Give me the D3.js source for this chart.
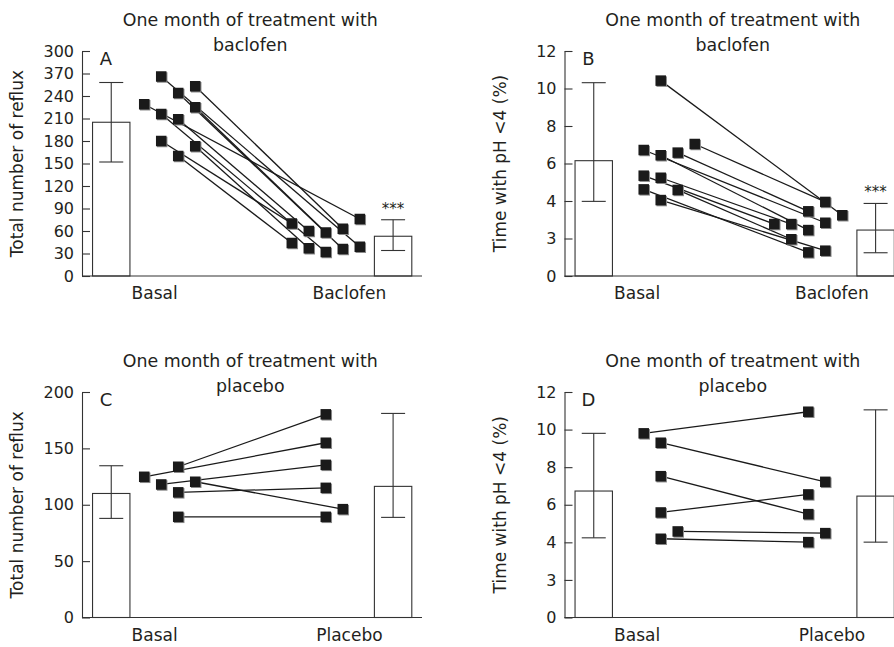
<!DOCTYPE html>
<html>
<head>
<meta charset="utf-8">
<script src="https://cdn.jsdelivr.net/npm/d3@7"></script>
<style>
  body { margin: 0; background: #fff; }
  text { font-family: "DejaVu Sans", sans-serif; fill: #231f20; }
</style>
</head>
<body>
<svg id="chart" width="894" height="647"></svg>
<script>
// categories and titles
var groupsBaclofen = ['Basal', 'Baclofen'];
var groupsPlacebo = ['Basal', 'Placebo'];
var titleBaclofen = ['One month of treatment with', 'baclofen'];
var titlePlacebo = ['One month of treatment with', 'placebo'];
var yLabelReflux = 'Total number of reflux';
var yLabelPh = 'Time with pH <4 (%)';

// tick values and the labels printed on them
var ticksA = [0, 30, 60, 90, 120, 150, 180, 210, 240, 270, 300];
var tickLabelsA = ['0', '30', '60', '90', '120', '150', '180', '210', '240', '370', '300'];
var ticksC = [0, 50, 100, 150, 200];
var tickLabelsC = ['0', '50', '100', '150', '200'];
var ticksPh = [0, 2, 4, 6, 8, 10, 12];
var tickLabelsPh = ['0', '3', '4', '6', '8', '10', '12'];

// group means with error bars [basal, after]
var meanA = [205, 53];
var lowA = [152, 34];
var highA = [258, 75];
var meanB = [6.15, 2.45];
var lowB = [3.98, 1.24];
var highB = [10.31, 3.87];
var meanC = [110, 116.3];
var lowC = [87.9, 88.8];
var highC = [134.6, 181];
var meanD = [6.73, 6.46];
var lowD = [4.24, 4.01];
var highD = [9.8, 11.05];

// individual patients: jitter slot and value, before and after
var aBasalSlot = [3, 0, 1, 2, 3, 1, 2, 3, 1, 2];
var aBasal = [253, 229, 266, 244, 225, 216, 209, 173, 180, 160];
var aAfterSlot = [3, 4, 4, 3, 2, 2, 1, 1, 0, 0];
var aAfter = [63, 76, 39, 36, 58, 32, 60, 37, 70, 44];

var bBasalSlot = [2, 4, 3, 1, 2, 1, 2, 3, 1, 2];
var bBasal = [10.42, 7.04, 6.58, 6.72, 6.44, 5.35, 5.24, 4.59, 4.62, 4.05];
var bAfterSlot = [4, 3, 2, 3, 2, 0, 1, 1, 2, 3];
var bAfter = [3.24, 3.95, 3.45, 2.84, 2.45, 2.77, 2.77, 1.96, 1.26, 1.35];

var cBasalSlot = [2, 0, 1, 2, 3, 2];
var cBasal = [133.7, 124.8, 118, 111, 120.4, 89.3];
var cAfterSlot = [2, 2, 2, 2, 3, 2];
var cAfter = [180.2, 155, 135.4, 115, 96.1, 89.3];

var dBasalSlot = [1, 2, 2, 2, 3, 2];
var dBasal = [9.8, 9.3, 7.52, 5.59, 4.58, 4.19];
var dAfterSlot = [2, 3, 2, 2, 3, 2];
var dAfter = [10.95, 7.22, 5.5, 6.55, 4.49, 4.01];

var svg = d3.select('#chart');

var panels = [
  { letter: 'A', left: 82, top: 51, bottom: 276, yMax: 300, ticks: ticksA, tickLabels: tickLabelsA,
    yLabel: yLabelReflux, title: titleBaclofen, groups: groupsBaclofen, stars: true,
    mean: meanA, low: lowA, high: highA, bs: aBasalSlot, bv: aBasal, as: aAfterSlot, av: aAfter },
  { letter: 'B', left: 564.5, top: 51, bottom: 276, yMax: 12, ticks: ticksPh, tickLabels: tickLabelsPh,
    yLabel: yLabelPh, title: titleBaclofen, groups: groupsBaclofen, stars: true,
    mean: meanB, low: lowB, high: highB, bs: bBasalSlot, bv: bBasal, as: bAfterSlot, av: bAfter },
  { letter: 'C', left: 82, top: 392, bottom: 617.5, yMax: 200, ticks: ticksC, tickLabels: tickLabelsC,
    yLabel: yLabelReflux, title: titlePlacebo, groups: groupsPlacebo, stars: false,
    mean: meanC, low: lowC, high: highC, bs: cBasalSlot, bv: cBasal, as: cAfterSlot, av: cAfter },
  { letter: 'D', left: 564.5, top: 392, bottom: 617.5, yMax: 12, ticks: ticksPh, tickLabels: tickLabelsPh,
    yLabel: yLabelPh, title: titlePlacebo, groups: groupsPlacebo, stars: false,
    mean: meanD, low: lowD, high: highD, bs: dBasalSlot, bv: dBasal, as: dAfterSlot, av: dAfter }
];

function drawPanel(p) {
  var g = svg.append('g').attr('transform', 'translate(' + p.left + ',0)');
  var y = d3.scaleLinear().domain([0, p.yMax]).range([p.bottom, p.top]);
  // horizontal layout in units of the jitter step
  var x = d3.scaleLinear().domain([0, 20]).range([0, 340]);
  var barCenter = [1.72, 18.3];
  var slotStart = [3.66, 12.34];
  var barW = x(2.2);
  var cat = d3.scalePoint().domain(p.groups).range([x(4.24), x(15.7)]);

  // title
  var midX = x(9.9);
  g.selectAll('text.title').data(p.title).enter().append('text')
    .attr('class', 'title')
    .attr('x', midX)
    .attr('y', function(d, i) { return p.top - 25 + i * 25; })
    .attr('text-anchor', 'middle')
    .style('font-size', '17.4px')
    .text(function(d) { return d; });

  // y axis label
  g.append('text')
    .attr('transform', 'translate(' + (-59) + ',' + ((p.top + p.bottom) / 2) + ') rotate(-90)')
    .attr('text-anchor', 'middle')
    .style('font-size', '17px')
    .text(p.yLabel);

  // bars
  g.selectAll('rect.bar').data(p.mean).enter().append('rect')
    .attr('class', 'bar')
    .attr('x', function(d, i) { return x(barCenter[i]) - barW / 2; })
    .attr('y', function(d) { return y(d); })
    .attr('width', barW)
    .attr('height', function(d) { return y(0) - y(d); })
    .attr('fill', '#fff')
    .attr('stroke', '#333')
    .attr('stroke-width', 1.1);

  // error bars
  p.mean.forEach(function(m, i) {
    var cx = x(barCenter[i]);
    g.append('line').attr('x1', cx).attr('x2', cx)
      .attr('y1', y(p.low[i])).attr('y2', y(p.high[i]))
      .attr('stroke', '#333').attr('stroke-width', 1.1);
    [p.low[i], p.high[i]].forEach(function(v) {
      g.append('line').attr('x1', cx - 12).attr('x2', cx + 12)
        .attr('y1', y(v)).attr('y2', y(v))
        .attr('stroke', '#333').attr('stroke-width', 1.1);
    });
  });

  if (p.stars) {
    g.append('text')
      .attr('x', x(barCenter[1]))
      .attr('y', y(p.high[1]) - 6)
      .attr('text-anchor', 'middle')
      .style('font-size', '15px')
      .text('***');
  }

  // patient lines
  var px = function(group, slot) { return x(slotStart[group] + slot); };
  p.bv.forEach(function(v, i) {
    g.append('line')
      .attr('x1', px(0, p.bs[i])).attr('y1', y(v))
      .attr('x2', px(1, p.as[i])).attr('y2', y(p.av[i]))
      .attr('stroke', '#1a1a1a').attr('stroke-width', 1.3);
  });

  // patient squares
  var pts = [];
  p.bv.forEach(function(v, i) {
    pts.push({ x: px(0, p.bs[i]), y: y(v) });
    pts.push({ x: px(1, p.as[i]), y: y(p.av[i]) });
  });
  var s = 10.5;
  g.selectAll('rect.shadow').data(pts).enter().append('rect')
    .attr('class', 'shadow')
    .attr('x', function(d) { return d.x - s / 2 + 1; })
    .attr('y', function(d) { return d.y - s / 2 + 1; })
    .attr('width', s).attr('height', s)
    .attr('fill', '#8a8a8a');
  g.selectAll('rect.pt').data(pts).enter().append('rect')
    .attr('class', 'pt')
    .attr('x', function(d) { return d.x - s / 2; })
    .attr('y', function(d) { return d.y - s / 2; })
    .attr('width', s).attr('height', s)
    .attr('fill', '#1a1a1a');

  // y axis, ticks pointing inwards
  var yAxis = g.append('g')
    .call(d3.axisLeft(y).tickValues(p.ticks)
      .tickFormat(function(d, i) { return p.tickLabels[i]; })
      .tickSize(-8).tickSizeOuter(0).tickPadding(8));
  yAxis.attr('font-family', null).attr('font-size', null);
  yAxis.selectAll('text').style('font-size', '16px').attr('fill', '#231f20');
  yAxis.selectAll('line').attr('stroke', '#333').attr('stroke-width', 1.1);
  yAxis.select('.domain').attr('stroke', '#333').attr('stroke-width', 1.1);

  // x axis
  g.append('line')
    .attr('x1', 0).attr('x2', x(20))
    .attr('y1', y(0)).attr('y2', y(0))
    .attr('stroke', '#333').attr('stroke-width', 1.1);
  var xAxis = g.append('g')
    .attr('transform', 'translate(0,' + y(0) + ')')
    .call(d3.axisBottom(cat).tickSize(0).tickPadding(11));
  xAxis.attr('font-family', null).attr('font-size', null);
  xAxis.select('.domain').remove();
  xAxis.selectAll('text').style('font-size', '17px').attr('fill', '#231f20');

  // panel letter
  g.append('text')
    .attr('x', 24)
    .attr('y', p.top + 14)
    .attr('text-anchor', 'middle')
    .style('font-size', '18px')
    .text(p.letter);
}

panels.forEach(drawPanel);
</script>
</body>
</html>
